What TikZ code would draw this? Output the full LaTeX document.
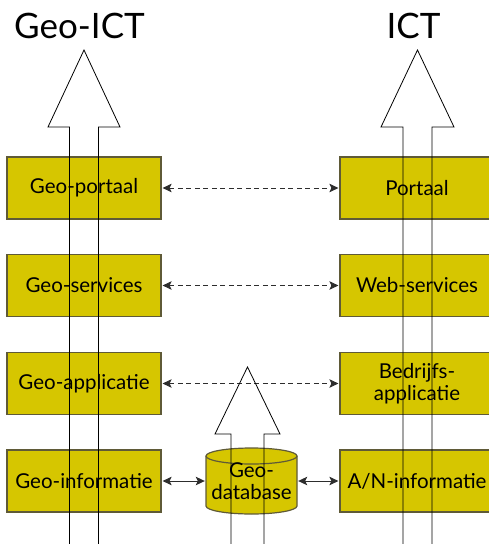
\documentclass[tikz,border=0pt]{standalone}
\usepackage{fontspec}
\setmainfont{Lato}
\usetikzlibrary{arrows.meta}
\definecolor{boxfill}{RGB}{214,198,0}
\definecolor{boxline}{RGB}{95,90,55}
\definecolor{linkcol}{RGB}{45,45,45}
\begin{document}
\begin{tikzpicture}[x=1pt,y=1pt,
  layerbox/.style={rectangle,draw=boxline,line width=1.2pt,fill=boxfill,minimum width=154pt,minimum height=62pt,inner sep=0pt,align=center,font=\fontsize{20.5}{22}\selectfont},
  tip/.tip={Stealth[length=9pt,width=8.5pt,inset=2pt]},
  dashlink/.style={draw=linkcol,dash pattern=on 5pt off 3.5pt,line width=0.8pt,{tip}-{tip},shorten <=1pt,shorten >=1pt},
  solidlink/.style={draw=linkcol,line width=1pt,{tip}-{tip},shorten <=1pt,shorten >=1pt},
  bigarrow/.style={draw=black,line width=0.8pt,line join=miter},
  title/.style={font=\fontsize{35}{38}\selectfont,anchor=base,inner sep=0pt}]
\useasboundingbox (0,0) rectangle (489,-544);
% titles
\node[title] (tgeo) at (79.5,-38) {Geo-ICT};
\node[title] (tict) at (413.5,-38) {ICT};
% left column
\node[layerbox] (g1) at (84,-188) {Geo-portaal};
\node[layerbox] (g2) at (84,-285.5) {Geo-services};
\node[layerbox] (g3) at (84,-383.5) {Geo-applicatie};
\node[layerbox] (g4) at (84,-481) {Geo-informatie};
% right column
\node[layerbox] (p1) at (417,-188) {Portaal};
\node[layerbox] (p2) at (417,-285.5) {Web-services};
\node[layerbox] (p3) at (417,-383.5) {Bedrijfs-\\applicatie};
\node[layerbox] (p4) at (417,-481) {A/N-informatie};
% cylinder
\fill[boxfill] (206,-456) -- (206,-506) arc (180:360:45.5 and 8) -- (297,-456) arc (0:180:45.5 and 8) -- cycle;
\draw[boxline,line width=1.2pt] (206,-456) -- (206,-506) arc (180:360:45.5 and 8) -- (297,-456) arc (0:180:45.5 and 8) -- cycle;
\draw[boxline,line width=1.2pt] (206,-456) arc (180:360:45.5 and 8);
\node[rectangle,minimum width=91pt,minimum height=66pt,inner sep=0pt,align=center,font=\fontsize{20.5}{22}\selectfont] (db) at (251.5,-481) {Geo-\\database};
% connectors
\draw[dashlink] (g1.east) -- (p1.west);
\draw[dashlink] (g2.east) -- (p2.west);
\draw[dashlink] (g3.east) -- (p3.west);
\draw[solidlink] (g4.east) -- (db.west);
\draw[solidlink] (db.east) -- (p4.west);
% big arrows
\draw[bigarrow] (69.5,-544) -- (69.5,-127) -- (48,-127) -- (84,-50) -- (120,-127) -- (98.5,-127) -- (98.5,-544);
\draw[bigarrow] (403,-544) -- (403,-127) -- (381,-127) -- (417.5,-50) -- (454,-127) -- (432,-127) -- (432,-544);
\draw[bigarrow] (231,-544) -- (231,-434) -- (215,-434) -- (247.5,-367) -- (280,-434) -- (264,-434) -- (264,-544);
\end{tikzpicture}
\end{document}
